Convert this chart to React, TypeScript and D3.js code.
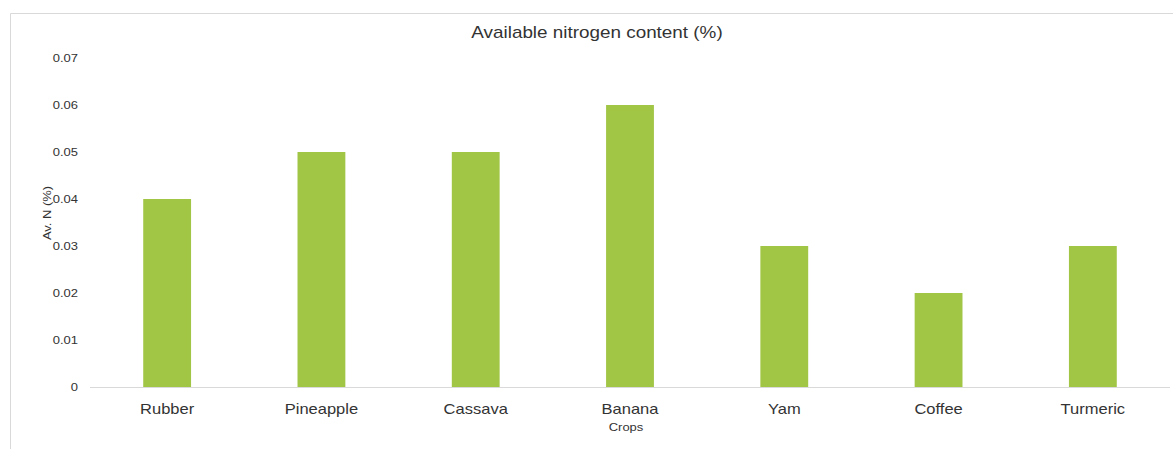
import React from "react";
import * as d3 from "d3";

const categories = ["Rubber", "Pineapple", "Cassava", "Banana", "Yam", "Coffee", "Turmeric"];
const values = [0.04, 0.05, 0.05, 0.06, 0.03, 0.02, 0.03];
const yTicks = [0, 0.01, 0.02, 0.03, 0.04, 0.05, 0.06, 0.07];

const W = 1173;
const H = 449;
const FONT = "'Liberation Sans', Arial, sans-serif";
const SX = 1.18;

function T({ x, y, size, anchor = "middle", rotate = 0, children }: any) {
  return (
    <text
      transform={`translate(${x},${y}) rotate(${rotate}) scale(${SX},1)`}
      textAnchor={anchor}
      fontFamily={FONT}
      fontSize={size}
      fill="#333"
    >
      {children}
    </text>
  );
}

export default function App() {
  const x = d3.scaleBand<string>().domain(categories).range([90, 1170]).padding(0);
  const y = d3.scaleLinear().domain([0, 0.07]).range([387, 58]);
  const barW = x.bandwidth() * 0.31;

  return (
    <svg width={W} height={H} style={{ position: "absolute", left: 0, top: 0 }}>
      <rect x={0} y={0} width={W} height={H} fill="#fff" />
      <path d={`M10.5,${H} V13.5 H${W}`} fill="none" stroke="#d9d9d9" strokeWidth={1} />
      <T x={597} y={38} size={16}>
        Available nitrogen content (%)
      </T>
      {yTicks.map((t) => (
        <T key={t} x={78} y={y(t) + 4} size={11} anchor="end">
          {t === 0 ? "0" : t.toFixed(2)}
        </T>
      ))}
      <T x={51} y={213} size={11} rotate={-90}>
        Av. N (%)
      </T>
      {categories.map((c, i) => (
        <rect
          key={c}
          x={(x(c) as number) + x.bandwidth() / 2 - barW / 2}
          y={y(values[i])}
          width={barW}
          height={y(0) - y(values[i])}
          fill="#a1c545"
        />
      ))}
      <line x1={90} x2={1170} y1={387.5} y2={387.5} stroke="#d9d9d9" strokeWidth={1} />
      {categories.map((c) => (
        <T key={c} x={(x(c) as number) + x.bandwidth() / 2} y={414} size={14}>
          {c}
        </T>
      ))}
      <T x={626} y={431} size={11}>
        Crops
      </T>
    </svg>
  );
}
